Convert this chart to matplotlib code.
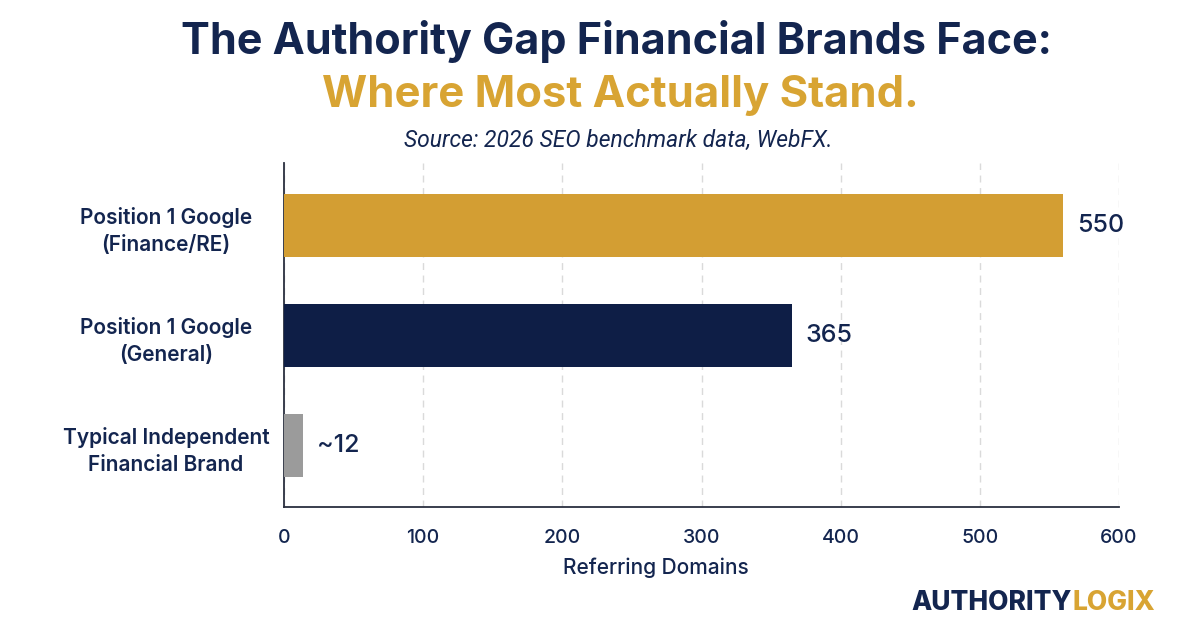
import matplotlib
matplotlib.use("Agg")
import matplotlib.pyplot as plt

categories = ["Position 1 Google\n(Finance/RE)", "Position 1 Google\n(General)",
              "Typical Independent\nFinancial Brand"]
values = [560, 365, 14]
value_labels = ["550", "365", "~12"]
bar_colors = ["#D39E33", "#0E1E46", "#9B9B9B"]
xticks = [0, 100, 200, 300, 400, 500, 600]

NAVY = "#13254F"
GOLD = "#D8A433"

plt.rcParams['font.family'] = ['Inter', 'DejaVu Sans']

fig = plt.figure(figsize=(12, 6.29), dpi=100)
fig.patch.set_facecolor("white")
ax = fig.add_axes([284/1200, 1-507/629, 835/1200, (507-163)/629])

ypos = list(range(len(categories)))
ax.barh(ypos, values, height=0.573, color=bar_colors, zorder=3)
ax.set_ylim(2.56, -0.565)
ax.set_xlim(0, 600)
ax.set_xticks(xticks)
ax.set_xticklabels([str(t) for t in xticks], fontsize=14, color=NAVY, weight='medium')
ax.set_yticks(ypos)
ax.set_yticklabels(categories, fontsize=15, color=NAVY, weight='semibold',
                   multialignment='center', linespacing=1.45, ha='center')
ax.tick_params(axis='both', length=0)
ax.tick_params(axis='x', pad=16)
ax.tick_params(axis='y', pad=85)
ax.grid(axis='x', linestyle=(0, (5, 4)), color='#DADADA', linewidth=1, zorder=0)
for s in ['top', 'right']:
    ax.spines[s].set_visible(False)
for s in ['left', 'bottom']:
    ax.spines[s].set_color('#2A2F3F')
    ax.spines[s].set_linewidth(1.3)

for y, v, lab in zip(ypos, values, value_labels):
    ax.annotate(lab, (v, y), xytext=(10, 0), textcoords='offset points',
                va='center', ha='left', fontsize=18, color=NAVY, weight='medium')

fig.text(616/1200, 1-54/629, "The Authority Gap Financial Brands Face:", ha='center',
         va='baseline', fontsize=31, weight='bold', color=NAVY)
fig.text(620/1200, 1-107/629, "Where Most Actually Stand.", ha='center',
         va='baseline', fontsize=31.4, weight='bold', color=GOLD)
fig.text(618/1200, 1-140/629, "Source: 2026 SEO benchmark data, WebFX.", ha='center',
         va='center', fontsize=16.5, style='italic', color=NAVY,
         family=['Roboto', 'DejaVu Sans'])
fig.text(656/1200, 1-568/629, "Referring Domains", ha='center', va='center',
         fontsize=15, color=NAVY, weight='medium')
fig.text(1072/1200, 1-603/629, "AUTHORITY", ha='right', va='center',
         fontsize=19, weight='heavy', color=NAVY)
fig.text(1072/1200, 1-603/629, "LOGIX", ha='left', va='center',
         fontsize=19, weight='heavy', color=GOLD)

fig.savefig("out.png", dpi=100, facecolor="white")
